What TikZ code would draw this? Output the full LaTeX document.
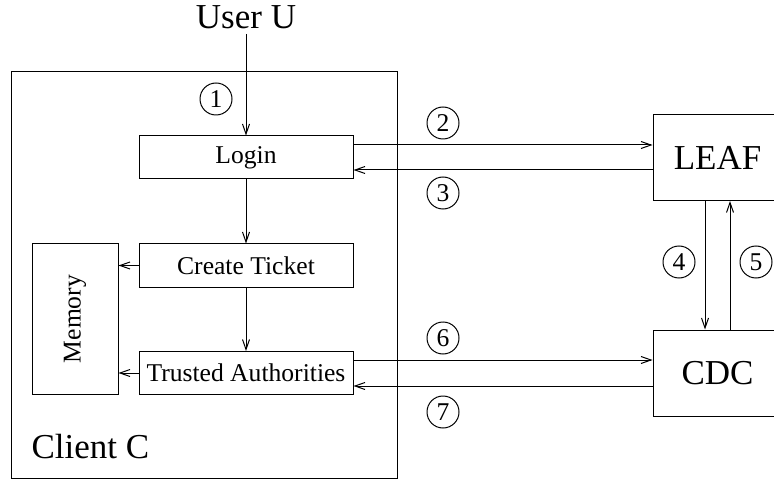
\documentclass[tikz,border=0pt]{standalone}
\usepackage{fontspec}
\setmainfont{Liberation Serif}
\usetikzlibrary{arrows.meta}
\newcommand{\bigsize}{\fontsize{17.5}{21}\selectfont}
\newcommand{\smallsize}{\fontsize{12.8}{15}\selectfont}

\begin{document}
\begin{tikzpicture}
  [x=0.5pt,y=-0.5pt,line width=0.5pt,>={Straight Barb[length=5pt,width=3.5pt]},
   every node/.style={font=\smallsize},
   box/.style={draw,inner sep=0pt,minimum width=107pt,minimum height=21.5pt},
   server/.style={draw,inner sep=0pt,minimum width=64.5pt,minimum height=43pt,font=\bigsize},
   num/.style={circle,draw,inner sep=0pt,minimum size=16pt}]
  \useasboundingbox (0,0) rectangle (774,480);
  \clip (0,0) rectangle (774,480);
  \node[draw,minimum width=193pt,minimum height=203pt] (client) at (204,275) {};
  \node[font=\bigsize,inner sep=0pt,anchor=base west] (clientlabel) at (31,458) {Client C};
  \node[font=\bigsize,inner sep=2pt,anchor=base] (user) at (246,29) {User U};
  \node[box] (login) at (246,157.5) {Login};
  \node[box] (ticket) at (246,265.5) {Create Ticket};
  \node[box] (trusted) at (246,373) {Trusted Authorities};
  \node[draw,inner sep=0pt,minimum width=43pt,minimum height=75pt] (memory) at (75,319) {\rotatebox{90}{Memory}};
  \node[server] (leaf) at (717.5,157.5) {LEAF};
  \node[server] (cdc) at (717.5,373) {CDC};

  \foreach \n/\x/\y in {1/216/99,2/443/123,3/443/193,4/679/262,5/756/262,6/443/338,7/443/412}
    \node[num] (n\n) at (\x,\y) {\n};

  \foreach \from/\to in {user/login,login/ticket,ticket/trusted}
    \draw[->] (\from) -- (\to);
  \foreach \from in {ticket,trusted}
    \draw[->] (\from.west) -- (\from.west -| memory.east);
  \foreach \a/\b/\s in {login/leaf/6.25pt,trusted/cdc/6.5pt}
  {
    \draw[->] ([yshift=\s]\a.east) -- ([yshift=\s]\b.west);
    \draw[->] ([yshift=-\s]\b.west) -- ([yshift=-\s]\a.east);
  }
  \draw[->] ([xshift=-6.25pt]leaf.south) -- ([xshift=-6.25pt]cdc.north);
  \draw[->] ([xshift=6.25pt]cdc.north) -- ([xshift=6.25pt]leaf.south);
\end{tikzpicture}
\end{document}
